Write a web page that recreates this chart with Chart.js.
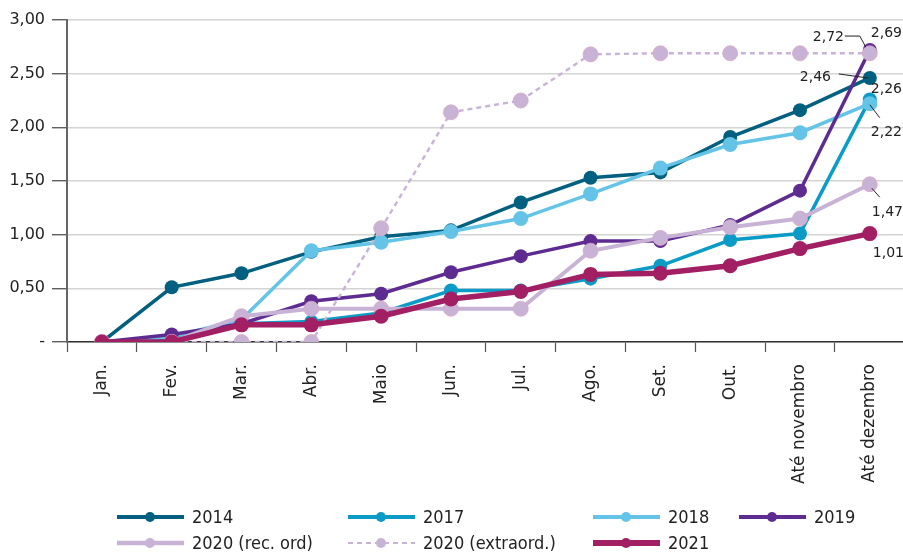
<!DOCTYPE html>
<html lang="pt">
<head>
  <meta charset="UTF-8">
  <title>Evolução acumulada</title>
  <script src="https://cdn.jsdelivr.net/npm/chart.js"></script>
  <style>
    html, body { margin: 0; padding: 0; background: #fff; overflow: hidden; }
    /* a little wider than the window: the label padding Chart.js keeps on the right falls outside */
    #wrap { position: relative; width: 913px; height: 552px; }
  </style>
</head>
<body>
<div id="wrap"><canvas id="chart"></canvas></div>

<script>
  // --- data ---
  const categories = ['Jan.', 'Fev.', 'Mar.', 'Abr.', 'Maio', 'Jun.', 'Jul.', 'Ago.', 'Set.', 'Out.', 'Até novembro', 'Até dezembro'];
  const yTicks = [0, 0.5, 1, 1.5, 2, 2.5, 3];

  const s2014    = [0, 0.51, 0.64, 0.84, 0.98, 1.04, 1.30, 1.53, 1.58, 1.91, 2.16, 2.46];
  const s2017    = [0, 0.03, 0.17, 0.19, 0.27, 0.48, 0.48, 0.59, 0.71, 0.95, 1.01, 2.26];
  const s2018    = [0, 0.05, 0.21, 0.85, 0.93, 1.03, 1.15, 1.38, 1.62, 1.84, 1.95, 2.22];
  const s2019    = [0, 0.07, 0.17, 0.38, 0.45, 0.65, 0.80, 0.94, 0.94, 1.09, 1.41, 2.72];
  const s2020ord = [0, 0, 0.24, 0.31, 0.31, 0.31, 0.31, 0.85, 0.97, 1.07, 1.15, 1.47];
  const s2020ext = [0, 0, 0, 0, 1.06, 2.14, 2.25, 2.68, 2.69, 2.69, 2.69, 2.69];
  const s2021    = [0, 0, 0.16, 0.16, 0.24, 0.40, 0.47, 0.63, 0.64, 0.71, 0.87, 1.01];

  const fmt = v => v.toFixed(2).replace('.', ',');

  function series(label, data, color, width, radius, extra) {
    return Object.assign({
      label: label,
      data: data,
      borderColor: color,
      backgroundColor: color,
      pointBackgroundColor: color,
      pointBorderColor: color,
      borderWidth: width,
      pointRadius: radius,
      pointHoverRadius: radius,
      pointBorderWidth: 0,
      tension: 0
    }, extra || {});
  }

  const datasets = [
    series('2014', s2014, '#015f7f', 3.5, 7),
    series('2017', s2017, '#0a9bc6', 3.5, 7),
    series('2018', s2018, '#63c4e7', 3.5, 7.5),
    series('2019', s2019, '#5e2c91', 3.5, 7),
    series('2020 (rec. ord)', s2020ord, '#c8b3d7', 4, 7.5, { pointBorderColor: '#d9a7c6', pointBorderWidth: 0.8 }),
    series('2020 (extraord.)', s2020ext, '#c8b3d7', 2.4, 7.5, { borderDash: [5, 4], pointBorderColor: '#d9a7c6', pointBorderWidth: 0.8 }),
    series('2021', s2021, '#a11f62', 5.5, 7.5)
  ];
  // later series drawn on top
  datasets.forEach((d, i) => { d.order = datasets.length - i; });

  // value labels at the last month (text offset from the point, optional leader line)
  const endLabels = [
    { ds: 3, dx: -57, dy: -13, leader: [[-25, -14], [-10, -14], [-4, -3]] },
    { ds: 5, dx: 1, dy: -20 },
    { ds: 0, dx: -70, dy: -1, leader: [[-31, -4], [-2, 0]] },
    { ds: 1, dx: 1, dy: -10 },
    { ds: 2, dx: 1, dy: 29, leader: [[0, 1], [10, 14]] },
    { ds: 4, dx: 2, dy: 28, leader: [[2, 4], [10, 13]] },
    { ds: 6, dx: 3, dy: 20 }
  ];

  const endLabelPlugin = {
    id: 'endLabels',
    afterDatasetsDraw(chart) {
      const ctx = chart.ctx;
      const last = categories.length - 1;
      ctx.save();
      ctx.font = '14px "DejaVu Sans", sans-serif';
      ctx.fillStyle = '#222';
      ctx.strokeStyle = '#222';
      ctx.lineWidth = 1;
      endLabels.forEach(l => {
        const pt = chart.getDatasetMeta(l.ds).data[last];
        const v = chart.data.datasets[l.ds].data[last];
        if (l.leader) {
          ctx.beginPath();
          l.leader.forEach((p, i) => {
            const x = pt.x + p[0], y = pt.y + p[1];
            if (i === 0) ctx.moveTo(x, y); else ctx.lineTo(x, y);
          });
          ctx.stroke();
        }
        ctx.textAlign = 'left';
        ctx.textBaseline = 'middle';
        ctx.fillText(fmt(v), pt.x + l.dx, pt.y + l.dy);
      });
      ctx.restore();
    }
  };

  // two-row legend under the axis labels
  const legendCols = [117, 348, 593, 739];
  const legendRows = [517, 543];
  const legendSlots = [[0, 0], [0, 1], [0, 2], [0, 3], [1, 0], [1, 1], [1, 2]];

  const legendPlugin = {
    id: 'rowLegend',
    afterDraw(chart) {
      const ctx = chart.ctx;
      ctx.save();
      chart.data.datasets.forEach((d, i) => {
        const [r, c] = legendSlots[i];
        const x0 = legendCols[c], y = legendRows[r];
        ctx.beginPath();
        ctx.strokeStyle = d.borderColor;
        ctx.lineWidth = d.borderDash ? 2.2 : Math.min(d.borderWidth + 0.5, 6);
        ctx.setLineDash(d.borderDash || []);
        ctx.moveTo(x0, y);
        ctx.lineTo(x0 + 67, y);
        ctx.stroke();
        ctx.setLineDash([]);
        ctx.beginPath();
        ctx.fillStyle = d.pointBackgroundColor;
        ctx.arc(x0 + 33, y, 5, 0, Math.PI * 2);
        ctx.fill();
        ctx.fillStyle = '#222';
        ctx.font = '18px "DejaVu Sans Condensed", "Liberation Sans Narrow", sans-serif';
        ctx.textAlign = 'left';
        ctx.textBaseline = 'middle';
        ctx.fillText(d.label, x0 + 75, y + 1);
      });
      ctx.restore();
    }
  };

  new Chart(document.getElementById('chart'), {
    type: 'line',
    data: { labels: categories, datasets: datasets },
    plugins: [endLabelPlugin, legendPlugin],
    options: {
      responsive: true,
      maintainAspectRatio: false,
      animation: false,
      layout: { padding: { top: 20, right: 0, left: 0, bottom: 0 } },
      plugins: {
        legend: { display: false },
        tooltip: { enabled: false }
      },
      scales: {
        x: {
          offset: true,
          afterFit: s => { s.height = 210; },
          grid: {
            offset: true,
            drawOnChartArea: false,
            drawTicks: true,
            tickLength: 10,
            tickColor: '#555',
            tickWidth: 1.2
          },
          border: { color: '#333', width: 1.5 },
          ticks: {
            autoSkip: false,
            minRotation: 90,
            maxRotation: 90,
            padding: 12,
            color: '#222',
            font: { family: '"DejaVu Sans", sans-serif', size: 17 }
          }
        },
        y: {
          min: 0,
          max: 3,
          afterFit: s => { s.width = 67; },
          afterBuildTicks: s => { s.ticks = yTicks.map(v => ({ value: v })); },
          grid: {
            color: '#d4d4d4',
            lineWidth: 1.5,
            tickColor: '#444',
            tickLength: 15,
            tickWidth: 1.2
          },
          border: { color: '#666', width: 2 },
          ticks: {
            padding: 7,
            color: '#222',
            font: { family: '"DejaVu Sans", sans-serif', size: 16 },
            callback: v => v === 0 ? '-' : fmt(v)
          }
        }
      }
    }
  });
</script>
</body>
</html>
